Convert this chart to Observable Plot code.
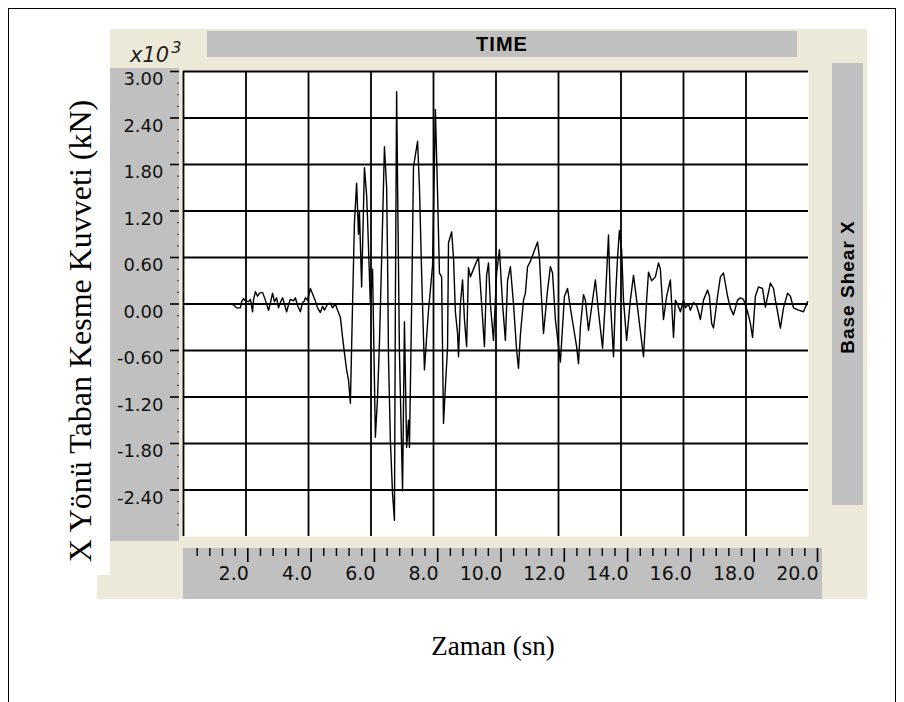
<!DOCTYPE html>
<html><head><meta charset="utf-8">
<script src="https://cdn.jsdelivr.net/npm/d3@7"></script>
<script src="https://cdn.jsdelivr.net/npm/@observablehq/plot@0.6"></script>
<style>
html,body{margin:0;padding:0;background:#fff;overflow:hidden;}
#wrap{position:relative;width:904px;height:702px;overflow:hidden;background:#fff;}
.abs{position:absolute;}
.beige{background:#ECE9D8;}
.gray{background:#C0C0C0;}
.sans{font-family:"Liberation Sans",Arial,sans-serif;font-weight:bold;color:#000;}
.serif{font-family:"Liberation Serif","Times New Roman",serif;color:#000;white-space:nowrap;}
svg{position:absolute;}
</style></head><body>
<div id="wrap">
  <div class="abs" style="left:8px;top:8px;width:886px;height:720px;border:1px solid #000;"></div>
  <div class="abs beige" style="left:110px;top:29px;width:757px;height:570px;"></div>
  <div class="abs beige" style="left:97px;top:575px;width:14px;height:24px;"></div>
  <div class="abs gray sans" style="left:207px;top:31px;width:590px;height:26px;font-size:20px;letter-spacing:1px;text-align:center;line-height:26px;">TIME</div>
  <div class="abs gray" style="left:110px;top:68px;width:69px;height:473px;"></div>
  <div class="abs gray" style="left:183px;top:548px;width:639px;height:51px;"></div>
  <div class="abs gray" style="left:832px;top:63px;width:31px;height:442px;"></div>
  <div class="abs sans" style="left:848px;top:287px;transform:translate(-50%,-50%) rotate(-90deg);font-size:19px;letter-spacing:1px;white-space:nowrap;">Base Shear X</div>
  <div class="abs" style="left:130px;top:43px;font-family:'DejaVu Sans',sans-serif;font-style:italic;font-size:21px;color:#222;white-space:nowrap;">x10<span style="font-size:16px;position:relative;top:-9px;left:2px;">3</span></div>
  <div class="abs serif" style="left:80px;top:331px;transform:translate(-50%,-50%) rotate(-90deg);font-size:32px;">X Yönü Taban Kesme Kuvveti (kN)</div>
  <div class="abs serif" style="left:493px;top:646px;transform:translate(-50%,-50%);font-size:27px;">Zaman (sn)</div>
  <div id="chart" class="abs" style="left:0;top:0;width:904px;height:702px;"></div>
</div>
<script>
// time (s)
const timeSec = [
  1.50,1.60,1.70,1.82,1.86,1.92,1.98,2.08,2.14,2.21,
  2.24,2.30,2.37,2.43,2.53,2.62,2.72,2.78,2.85,2.91,
  2.98,3.04,3.10,3.17,3.23,3.30,3.36,3.42,3.52,3.58,
  3.65,3.74,3.81,3.87,3.90,3.97,4.00,4.06,4.16,4.22,
  4.29,4.38,4.45,4.51,4.61,4.70,4.77,4.86,4.93,5.02,
  5.09,5.15,5.22,5.28,5.34,5.41,5.47,5.54,5.60,5.63,
  5.70,5.79,5.86,5.89,5.98,6.05,6.14,6.21,6.27,6.34,
  6.43,6.50,6.53,6.56,6.62,6.69,6.75,6.78,6.82,6.85,
  6.91,7.01,7.07,7.14,7.20,7.23,7.30,7.36,7.49,7.55,
  7.62,7.71,7.78,7.84,7.90,7.97,8.06,8.13,8.19,8.26,
  8.32,8.38,8.45,8.48,8.58,8.64,8.70,8.77,8.80,8.86,
  8.93,8.99,9.06,9.12,9.18,9.28,9.38,9.44,9.54,9.63,
  9.70,9.76,9.82,9.92,10.02,10.11,10.21,10.30,10.37,10.46,
  10.56,10.66,10.72,10.78,10.88,10.94,11.01,11.10,11.33,11.39,
  11.46,11.52,11.65,11.74,11.81,11.90,12.06,12.19,12.29,12.38,
  12.48,12.58,12.64,12.70,12.80,12.86,12.96,13.09,13.18,13.28,
  13.41,13.50,13.60,13.66,13.76,13.82,13.89,13.95,14.02,14.08,
  14.18,14.30,14.40,14.50,14.62,14.72,14.82,14.88,14.98,15.10,
  15.20,15.26,15.36,15.46,15.58,15.68,15.74,15.81,15.90,16.00,
  16.06,16.16,16.22,16.32,16.42,16.48,16.54,16.64,16.77,16.83,
  16.90,16.96,17.09,17.18,17.28,17.41,17.50,17.60,17.73,17.82,
  17.92,18.05,18.14,18.21,18.30,18.40,18.53,18.62,18.78,18.88,
  18.94,19.01,19.10,19.20,19.33,19.42,19.52,19.68,19.84,19.97
];
// base shear X (kN x 10^3)
const baseShear = [
  0.00,-0.01,-0.05,-0.05,0.03,0.07,0.04,0.03,0.06,-0.10,
  0.05,0.16,0.10,0.14,0.15,0.05,-0.08,0.01,0.14,0.03,
  0.08,-0.05,0.02,0.08,0.00,-0.10,-0.01,0.06,0.04,0.08,
  -0.02,-0.10,0.02,0.04,0.08,0.05,0.10,0.20,0.10,0.04,
  -0.05,-0.11,-0.03,-0.08,0.00,0.01,-0.05,0.00,-0.08,-0.17,
  -0.43,-0.63,-0.85,-0.98,-1.28,0.00,1.05,1.56,0.90,1.20,
  0.22,1.76,1.40,1.09,0.00,0.45,-1.72,-1.20,-0.50,0.57,
  2.03,1.51,0.57,-0.69,-1.76,-2.45,-2.79,0.00,2.74,1.56,
  -0.63,-2.41,-0.23,-1.85,-1.50,-1.85,-0.04,1.77,2.10,1.51,
  0.40,-0.85,-0.43,-0.08,0.18,0.50,2.51,1.43,0.40,0.35,
  -1.54,-1.07,-0.56,0.79,0.93,0.60,-0.10,-0.38,-0.68,0.00,
  0.31,-0.20,-0.55,0.47,0.35,0.45,0.55,0.60,0.00,-0.55,
  0.37,0.53,0.00,-0.47,0.40,0.70,0.00,-0.47,0.30,0.48,
  0.00,-0.60,-0.83,-0.40,0.05,0.14,0.48,0.55,0.80,0.60,
  0.05,-0.38,0.18,0.48,0.40,-0.20,-0.75,0.10,0.20,-0.05,
  -0.30,-0.55,-0.77,-0.30,0.12,0.05,-0.34,0.05,0.31,-0.10,
  -0.57,0.05,0.89,0.05,-0.68,0.05,0.60,0.95,0.70,0.05,
  -0.47,0.05,0.37,0.05,-0.35,-0.68,0.05,0.41,0.30,0.35,
  0.53,0.45,-0.20,0.10,0.31,-0.43,0.05,0.00,-0.10,0.05,
  -0.05,0.00,-0.08,0.02,-0.02,-0.10,-0.20,0.05,0.18,0.10,
  -0.25,-0.31,0.10,0.35,0.40,0.10,-0.05,-0.14,0.05,0.08,
  0.06,-0.10,-0.25,-0.43,0.10,0.22,0.20,-0.04,0.27,0.20,
  0.05,-0.10,-0.31,-0.05,0.14,0.10,-0.05,-0.08,-0.10,0.03
];
const yTickLabels = [3.0, 2.4, 1.8, 1.2, 0.6, 0.0, -0.6, -1.2, -1.8, -2.4];
const yMinorTicks = [];
const xGridTicks = [0, 2, 4, 6, 8, 10, 12, 14, 16, 18];
const xTickLabels = [2, 4, 6, 8, 10, 12, 14, 16, 18, 20];
const xMinorTicks = [];
const xDomain = [0, 20];
const yDomain = [-3, 3];

for (let i = 0; i < 40; i++) { const v = 3 - i * 0.15; if (i % 4 !== 0) yMinorTicks.push(+v.toFixed(2)); }
for (let i = 1; i <= 50; i++) { if (i % 5 !== 0) xMinorTicks.push(+(i * 0.4).toFixed(1)); }

const series = timeSec.map((t, i) => ({t, v: baseShear[i]}));
const labelFont = "'DejaVu Sans', sans-serif";

const main = Plot.plot({
  width: 904, height: 702,
  marginLeft: 183, marginRight: 96, marginTop: 71, marginBottom: 166,
  style: {background: "transparent", overflow: "visible"},
  x: {domain: xDomain, label: null, axis: null},
  y: {domain: yDomain, label: null},
  marks: [
    Plot.frame({fill: "white"}),
    Plot.gridX({ticks: xGridTicks, stroke: "#000", strokeOpacity: 1, strokeWidth: 1.8}),
    Plot.gridY({ticks: yTickLabels, stroke: "#000", strokeOpacity: 1, strokeWidth: 1.8}),
    Plot.line(series, {x: "t", y: "v", stroke: "#000", strokeWidth: 1.4}),
    Plot.axisY({ticks: yTickLabels, tickSize: 9, dx: -4, text: null, label: null, stroke: "#000", strokeWidth: 1.6}),
    Plot.axisY({ticks: yMinorTicks, tickSize: 2, dx: -4, text: null, label: null, stroke: "#444", strokeWidth: 1.2}),
    Plot.axisY({ticks: yTickLabels, tickSize: 0, tickPadding: 20, dy: 8, label: null,
      tickFormat: d => d.toFixed(2), fontSize: 18, fontFamily: labelFont, fill: "#111"})
  ]
});
document.getElementById("chart").appendChild(main);

const axis = Plot.plot({
  width: 904, height: 70,
  marginLeft: 184, marginRight: 87, marginTop: 0, marginBottom: 58,
  style: {background: "transparent", overflow: "visible"},
  x: {domain: xDomain, label: null},
  marks: [
    Plot.axisX({ticks: xTickLabels, tickSize: 14, text: null, stroke: "#000", strokeWidth: 1.6, label: null}),
    Plot.axisX({ticks: xMinorTicks, tickSize: 8, text: null, stroke: "#000", strokeWidth: 1.4, label: null}),
    Plot.axisX({ticks: xTickLabels, tickSize: 0, tickPadding: 18, textAnchor: "end", dx: 1, label: null,
      tickFormat: d => d.toFixed(1), fontSize: 19, fontFamily: labelFont, fill: "#111"})
  ]
});
axis.style.left = "0px"; axis.style.top = "536px";
document.getElementById("chart").appendChild(axis);
</script>
</body></html>
